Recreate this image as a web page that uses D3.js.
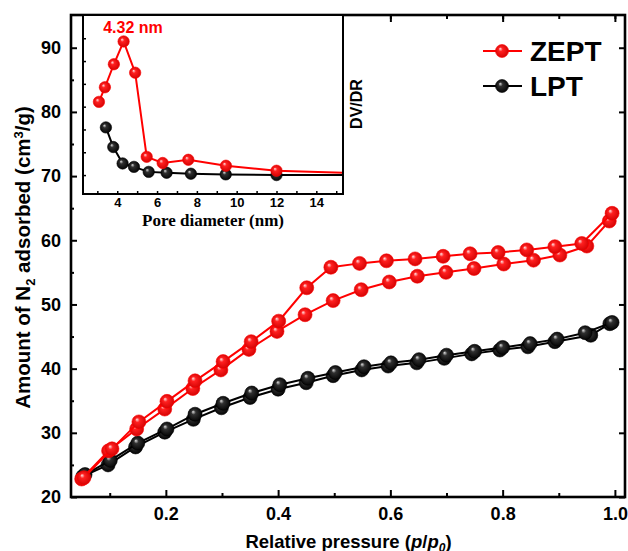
<!DOCTYPE html>
<html><head><meta charset="utf-8">
<script src="https://cdn.jsdelivr.net/npm/d3@7"></script>
<style>body{margin:0;background:#fff}svg{display:block}</style>
</head><body>
<svg id="c" width="628" height="551"></svg>
<script>
// ---- main isotherm data ----
const series = ["ZEPT", "LPT"];
const zeptAdsX = [0.050,0.098,0.148,0.198,0.248,0.298,0.348,0.398,0.448,0.498,0.548,0.598,0.648,0.699,0.749,0.802,0.855,0.902,0.950,0.990];
const zeptAdsY = [22.8,27.2,30.6,33.7,36.9,39.8,43.0,45.8,48.4,50.6,52.3,53.5,54.4,55.0,55.6,56.3,56.9,57.7,59.1,63.0];
const zeptDesX = [0.995,0.941,0.893,0.843,0.792,0.742,0.694,0.644,0.593,0.545,0.494,0.451,0.401,0.352,0.302,0.252,0.202,0.152,0.104,0.054];
const zeptDesY = [64.2,59.5,59.0,58.5,58.1,57.9,57.5,57.1,56.8,56.4,55.8,52.6,47.4,44.2,41.1,38.1,34.9,31.7,27.5,23.0];
const lptAdsX = [0.052,0.097,0.146,0.198,0.249,0.299,0.350,0.400,0.450,0.498,0.549,0.596,0.647,0.696,0.745,0.795,0.845,0.893,0.957,0.991];
const lptAdsY = [23.2,25.0,27.8,30.1,32.1,33.9,35.5,36.8,37.8,38.9,39.8,40.4,40.9,41.6,42.3,42.9,43.4,44.2,45.2,47.0];
const lptDesX = [0.995,0.947,0.897,0.849,0.800,0.750,0.700,0.651,0.601,0.553,0.502,0.453,0.403,0.353,0.302,0.252,0.202,0.150,0.101,0.056];
const lptDesY = [47.2,45.6,44.6,43.9,43.3,42.7,42.1,41.4,40.9,40.3,39.4,38.5,37.5,36.2,34.6,32.9,30.6,28.4,25.7,23.5];
const xTicks = [0.2,0.4,0.6,0.8,1.0];
const yTicks = [20,30,40,50,60,70,80,90];

// ---- inset pore size distribution ----
const zeptPoreX = [3.08,3.38,3.83,4.32,4.90,5.48,6.28,7.57,9.46,12.0,17.0];
const zeptPoreY = [3.21,3.85,4.86,5.86,4.49,0.80,0.53,0.67,0.41,0.19,0.06];
const lptPoreX = [3.43,3.80,4.27,4.84,5.58,6.48,7.70,9.45,12.0,17.0];
const lptPoreY = [2.09,1.23,0.51,0.36,0.14,0.10,0.06,0.03,0.00,0.00];
const insetXTicks = [4,6,8,10,12,14];
const peakLabel = "4.32 nm";

const svg = d3.select("#c");
const RED = "#ff0000", BLK = "#000000";

// gradients for sphere markers
const defs = svg.append("defs");
function grad(id, c0, c1, c2){
  const g = defs.append("radialGradient").attr("id", id)
    .attr("cx","50%").attr("cy","50%").attr("r","55%")
    .attr("fx","35%").attr("fy","32%");
  g.append("stop").attr("offset","0%").attr("stop-color",c0);
  g.append("stop").attr("offset","30%").attr("stop-color",c1);
  g.append("stop").attr("offset","100%").attr("stop-color",c2);
}
grad("gRed","#ffe6e6","#ff2020","#d00000");
grad("gBlk","#e0e0e0","#303030","#000000");

// ---- main chart ----
const M = {l:71, r:625, t:15, b:497};
const x = d3.scaleLinear().domain([0.031,1.018]).range([M.l,M.r]);
const y = d3.scaleLinear().domain([20,95.1]).range([M.b,M.t]);

const line = d3.line().x(d=>x(d[0])).y(d=>y(d[1]));
function drawSeries(g, xs, ys, col, fill, r, xs2, ys2){
  const pts = xs.map((v,i)=>[v, ys[i]]);
  g.append("path").attr("d", line(pts)).attr("fill","none").attr("stroke",col).attr("stroke-width",2);
  g.selectAll(null).data(pts).enter().append("circle")
    .attr("cx",d=>xs2(d[0])).attr("cy",d=>ys2(d[1])).attr("r",r)
    .attr("fill",fill).attr("stroke",col).attr("stroke-width",0.6);
}
const gm = svg.append("g");
drawSeries(gm, lptAdsX, lptAdsY, BLK, "url(#gBlk)", 7, x, y);
drawSeries(gm, lptDesX, lptDesY, BLK, "url(#gBlk)", 7, x, y);
drawSeries(gm, zeptAdsX, zeptAdsY, RED, "url(#gRed)", 7, x, y);
drawSeries(gm, zeptDesX, zeptDesY, RED, "url(#gRed)", 7, x, y);

// axes
const font = "Arial, 'Liberation Sans', sans-serif";
const ax = svg.append("g");
const xMinor = d3.range(0.1,1.01,0.1);
const yMinor = d3.range(25,95,10);
// bottom
ax.append("g").attr("transform",`translate(0,${M.b})`)
  .call(d3.axisBottom(x).tickValues(xTicks).tickSize(-7).tickFormat(d3.format(".1f")).tickPadding(12))
  .call(g=>g.select(".domain").remove())
  .call(g=>g.selectAll("text").attr("font-size",18).attr("font-weight","bold").attr("font-family",font).attr("fill","#000").attr("dy","0.6em"))
  .call(g=>g.selectAll("line").attr("stroke-width",2));
ax.append("g").attr("transform",`translate(0,${M.b})`)
  .call(d3.axisBottom(x).tickValues(xMinor.filter(v=>!xTicks.some(t=>Math.abs(t-v)<1e-6))).tickSize(-4).tickFormat(""))
  .call(g=>g.select(".domain").remove()).call(g=>g.selectAll("line").attr("stroke-width",2));
// top
ax.append("g").attr("transform",`translate(0,${M.t})`)
  .call(d3.axisTop(x).tickValues(xTicks).tickSize(-7).tickFormat(""))
  .call(g=>g.select(".domain").remove()).call(g=>g.selectAll("line").attr("stroke-width",2));
ax.append("g").attr("transform",`translate(0,${M.t})`)
  .call(d3.axisTop(x).tickValues(xMinor).tickSize(-4).tickFormat(""))
  .call(g=>g.select(".domain").remove()).call(g=>g.selectAll("line").attr("stroke-width",2));
// left
ax.append("g").attr("transform",`translate(${M.l},0)`)
  .call(d3.axisLeft(y).tickValues(yTicks).tickSize(-6).tickPadding(10))
  .call(g=>g.select(".domain").remove())
  .call(g=>g.selectAll("text").attr("font-size",18).attr("font-weight","bold").attr("font-family",font).attr("fill","#000"))
  .call(g=>g.selectAll("line").attr("stroke-width",2));
ax.append("g").attr("transform",`translate(${M.l},0)`)
  .call(d3.axisLeft(y).tickValues(yMinor).tickSize(-3).tickFormat(""))
  .call(g=>g.select(".domain").remove()).call(g=>g.selectAll("line").attr("stroke-width",2));
// right
ax.append("g").attr("transform",`translate(${M.r},0)`)
  .call(d3.axisRight(y).tickValues(yTicks).tickSize(-6).tickFormat(""))
  .call(g=>g.select(".domain").remove()).call(g=>g.selectAll("line").attr("stroke-width",2));
// frame
svg.append("rect").attr("x",M.l).attr("y",M.t).attr("width",M.r-M.l).attr("height",M.b-M.t)
  .attr("fill","none").attr("stroke","#000").attr("stroke-width",2.6);

// axis titles
const yt = svg.append("text").attr("transform",`translate(30,${(95+420)/2}) rotate(-90)`)
  .attr("text-anchor","middle").attr("font-family",font).attr("font-weight","bold").attr("font-size",20.5);
yt.append("tspan").text("Amount of N");
yt.append("tspan").text("2").attr("font-size",13).attr("dy",5);
yt.append("tspan").text(" adsorbed (cm").attr("dy",-5);
yt.append("tspan").text("3").attr("font-size",13).attr("dy",-7);
yt.append("tspan").text("/g)").attr("dy",7);

const xt = svg.append("text").attr("x",(245+452)/2).attr("y",548)
  .attr("text-anchor","middle").attr("font-family",font).attr("font-weight","bold").attr("font-size",18.5);
xt.append("tspan").text("Relative pressure (");
xt.append("tspan").text("p").attr("font-style","italic");
xt.append("tspan").text("/");
xt.append("tspan").text("p").attr("font-style","italic");
xt.append("tspan").text("0").attr("font-style","italic").attr("font-size",12).attr("dy",4);
xt.append("tspan").text(")").attr("dy",-4);

// legend
const legY = [51, 86];
const legCol = [RED, BLK], legFill = ["url(#gRed)","url(#gBlk)"];
series.forEach((s,i)=>{
  svg.append("line").attr("x1",483).attr("x2",522).attr("y1",legY[i]).attr("y2",legY[i]).attr("stroke",legCol[i]).attr("stroke-width",2);
  svg.append("circle").attr("cx",502).attr("cy",legY[i]).attr("r",6.5).attr("fill",legFill[i]).attr("stroke",legCol[i]).attr("stroke-width",0.6);
  svg.append("text").attr("x",530).attr("y",legY[i]+9.5).text(s)
    .attr("font-family",font).attr("font-weight","bold").attr("font-size",28);
});

// ---- inset ----
const I = {l:83, r:343, t:15, b:194};
const xi = d3.scaleLinear().domain([2.28,15.34]).range([I.l,I.r]);
const yi = d3.scaleLinear().domain([-0.83,7.02]).range([I.b,I.t]);
svg.append("rect").attr("x",I.l).attr("y",I.t).attr("width",I.r-I.l).attr("height",I.b-I.t).attr("fill","#fff");
defs.append("clipPath").attr("id","ic").append("rect").attr("x",I.l).attr("y",I.t).attr("width",I.r-I.l).attr("height",I.b-I.t);
const gi = svg.append("g").attr("clip-path","url(#ic)");
const linei = d3.line().x(d=>xi(d[0])).y(d=>yi(d[1]));
function drawInset(xs, ys, col, fill){
  const pts = xs.map((v,i)=>[v, ys[i]]);
  gi.append("path").attr("d", linei(pts)).attr("fill","none").attr("stroke",col).attr("stroke-width",2);
  gi.selectAll(null).data(pts.filter(d=>d[0]<15)).enter().append("circle")
    .attr("cx",d=>xi(d[0])).attr("cy",d=>yi(d[1])).attr("r",5.7)
    .attr("fill",fill).attr("stroke",col).attr("stroke-width",0.6);
}
drawInset(lptPoreX, lptPoreY, BLK, "url(#gBlk)");
drawInset(zeptPoreX, zeptPoreY, RED, "url(#gRed)");

svg.append("g").attr("transform",`translate(0,${I.b})`)
  .call(d3.axisBottom(xi).tickValues(d3.range(3,16,1)).tickSize(-3).tickFormat(d=>insetXTicks.includes(d)?d:"").tickPadding(3))
  .call(g=>g.select(".domain").remove())
  .call(g=>g.selectAll("text").attr("font-size",13).attr("font-weight","bold").attr("font-family",font).attr("fill","#000").attr("dy","0.75em"))
  .call(g=>g.selectAll("line").attr("stroke-width",1.5));
svg.append("g").attr("transform",`translate(${I.l},0)`)
  .call(d3.axisLeft(yi).tickValues(d3.range(0,7,1)).tickSize(-3).tickFormat(""))
  .call(g=>g.select(".domain").remove()).call(g=>g.selectAll("line").attr("stroke-width",1.5));
svg.append("rect").attr("x",I.l).attr("y",I.t).attr("width",I.r-I.l).attr("height",I.b-I.t)
  .attr("fill","none").attr("stroke","#000").attr("stroke-width",2);

svg.append("text").attr("x",213).attr("y",226).attr("text-anchor","middle")
  .attr("font-family","'Liberation Serif','Times New Roman',serif").attr("font-weight","bold").attr("font-size",17)
  .text("Pore diameter (nm)");
svg.append("text").attr("transform",`translate(361.5,104) rotate(-90)`).attr("text-anchor","middle")
  .attr("font-family",font).attr("font-weight","bold").attr("font-size",16).text("DV/DR");
svg.append("text").attr("x",133).attr("y",33).attr("text-anchor","middle")
  .attr("font-family",font).attr("font-weight","bold").attr("font-size",16).attr("fill",RED).text(peakLabel);
</script>
</body></html>
